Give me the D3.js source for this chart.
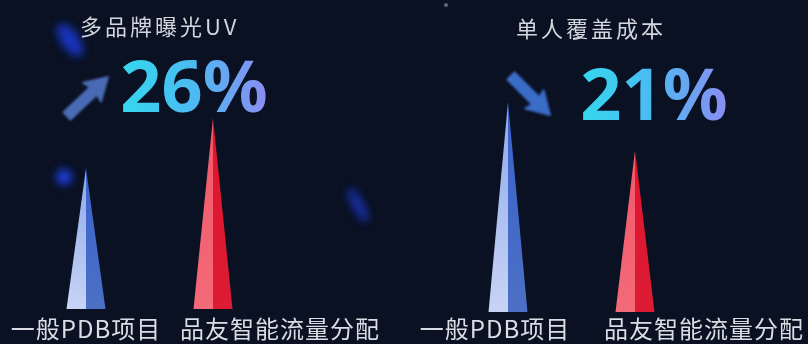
<!DOCTYPE html>
<html>
<head>
<meta charset="utf-8">
<script src="https://cdn.jsdelivr.net/npm/d3@7"></script>
<style>
  html, body { margin: 0; padding: 0; background: #0a1122; }
  svg { display: block; }
</style>
</head>
<body>
<div id="chart"></div>
<script>
// Data
const panelTitles = ["多品牌曝光UV", "单人覆盖成本"];
const panelChanges = ["26%", "21%"];
const panelTrends = ["up", "down"];
const categories = ["一般PDB项目", "品友智能流量分配"];
const valuesUV = [67, 91];
const valuesCost = [100, 77];

const width = 808, height = 344;

const svg = d3.select("#chart").append("svg")
    .attr("width", width)
    .attr("height", height);

const defs = svg.append("defs");

// Background
svg.append("rect")
    .attr("width", width)
    .attr("height", height)
    .attr("fill", "#0a1122");

// faint speckle texture
const pat = defs.append("pattern")
    .attr("id", "speckle")
    .attr("width", 23).attr("height", 19)
    .attr("patternUnits", "userSpaceOnUse");
[[3, 4, 0.6], [14, 11, 0.5], [19, 2, 0.4], [8, 15, 0.45]].forEach(([cx, cy, r]) => {
    pat.append("circle").attr("cx", cx).attr("cy", cy).attr("r", r)
        .attr("fill", "#6a7aa0").attr("opacity", 0.18);
});
svg.append("rect")
    .attr("width", width)
    .attr("height", height)
    .attr("fill", "url(#speckle)");

// Blurred decorative blobs
defs.append("filter").attr("id", "blur6")
    .attr("x", "-100%").attr("y", "-100%").attr("width", "300%").attr("height", "300%")
    .append("feGaussianBlur").attr("stdDeviation", 4.5);
defs.append("filter").attr("id", "blur1")
    .append("feGaussianBlur").attr("stdDeviation", 0.8);

const deco = svg.append("g").attr("filter", "url(#blur6)");
deco.append("ellipse")
    .attr("transform", "translate(70,40) rotate(55)")
    .attr("rx", 19).attr("ry", 9)
    .attr("fill", "#1c3ce0").attr("opacity", 0.8);
deco.append("circle")
    .attr("cx", 64).attr("cy", 177).attr("r", 8)
    .attr("fill", "#1e40f0").attr("opacity", 0.9);
deco.append("ellipse")
    .attr("transform", "translate(358,205) rotate(62)")
    .attr("rx", 19).attr("ry", 6)
    .attr("fill", "#1a32c0").attr("opacity", 0.8);
svg.append("circle")
    .attr("cx", 446).attr("cy", 5).attr("r", 1.6)
    .attr("fill", "#c8d4ff").attr("filter", "url(#blur1)");

// Gradients
function vGrad(id, top, bottom) {
    const g = defs.append("linearGradient").attr("id", id)
        .attr("x1", 0).attr("y1", 0).attr("x2", 0).attr("y2", 1);
    g.append("stop").attr("offset", "0%").attr("stop-color", top);
    g.append("stop").attr("offset", "100%").attr("stop-color", bottom);
}
vGrad("blueL", "#8ea8ea", "#c8d4f6");
vGrad("blueR", "#3a62cc", "#4c70c4");
vGrad("redL", "#f2586a", "#f36a78");
vGrad("redR", "#e0142e", "#dc1c34");

const numGrad = defs.append("linearGradient").attr("id", "numGrad")
    .attr("x1", 0).attr("y1", 0).attr("x2", 1).attr("y2", 0);
numGrad.append("stop").attr("offset", "0%").attr("stop-color", "#34d8ee");
numGrad.append("stop").attr("offset", "50%").attr("stop-color", "#4cbaf2");
numGrad.append("stop").attr("offset", "100%").attr("stop-color", "#8c8cf2");

// Scales
const x = d3.scalePoint().domain(categories).range([0, 127]);
const coneHalf = 19.5;
const coneFills = [["url(#blueL)", "url(#blueR)"], ["url(#redL)", "url(#redR)"]];

const panels = [
    { title: panelTitles[0], change: panelChanges[0], trend: panelTrends[0], values: valuesUV,
      originX: 86, base: 309, titleX: 80, titleY: 35, numX: 194, numY: 112,
      labelX: [86, 280], arrow: [[67, 116], [108, 77]], arrowColor: "#4a6ab4" },
    { title: panelTitles[1], change: panelChanges[1], trend: panelTrends[1], values: valuesCost,
      originX: 508, base: 312, titleX: 516, titleY: 37, numX: 654, numY: 120,
      labelX: [495, 704], arrow: [[511, 76], [550, 115]], arrowColor: "#3a6cc8" }
];

panels.forEach(p => {
    const y = d3.scaleLinear().domain([0, 100]).range([p.base, p.base - 210]);
    const g = svg.append("g");

    // Title
    g.append("text")
        .attr("x", p.titleX).attr("y", p.titleY)
        .attr("font-family", "'Noto Sans CJK SC', 'Noto Sans', sans-serif")
        .attr("font-size", 22)
        .attr("letter-spacing", 3)
        .attr("fill", "#d2d6de")
        .text(p.title);

    // Change number
    g.append("text")
        .attr("x", p.numX).attr("y", p.numY)
        .attr("text-anchor", "middle")
        .attr("font-family", "'Noto Sans', Roboto, sans-serif")
        .attr("font-weight", "bold")
        .attr("font-size", 72)
        .attr("fill", "url(#numGrad)")
        .text(p.change);

    // Trend arrow
    const [[ax0, ay0], [ax1, ay1]] = p.arrow;
    const ang = Math.atan2(ay1 - ay0, ax1 - ax0) * 180 / Math.PI;
    const len = Math.hypot(ax1 - ax0, ay1 - ay0);
    g.append("path")
        .attr("transform", `translate(${ax0},${ay0}) rotate(${ang})`)
        .attr("d", `M0,-5 L${len - 20},-5 L${len - 22},-13 L${len},0 L${len - 22},13 L${len - 20},5 L0,5 Z`)
        .attr("fill", p.arrowColor)
        .attr("stroke", p.arrowColor)
        .attr("stroke-linejoin", "round")
        .attr("stroke-width", 2)
        .attr("filter", "url(#blur1)");

    // Cones
    const cones = g.append("g").attr("transform", `translate(${p.originX},0)`);
    categories.forEach((c, i) => {
        const cx = x(c), tip = y(p.values[i]);
        cones.append("path")
            .attr("d", `M${cx},${tip} L${cx - coneHalf},${p.base} L${cx},${p.base} Z`)
            .attr("fill", coneFills[i][0]);
        cones.append("path")
            .attr("d", `M${cx},${tip} L${cx + coneHalf},${p.base} L${cx},${p.base} Z`)
            .attr("fill", coneFills[i][1]);
    });

    // Category labels
    categories.forEach((c, i) => {
        g.append("text")
            .attr("x", p.labelX[i]).attr("y", 338)
            .attr("text-anchor", "middle")
            .attr("font-family", "'Noto Sans CJK SC', 'Noto Sans', sans-serif")
            .attr("font-size", 24)
            .attr("letter-spacing", 1)
            .attr("fill", "#dadde4")
            .text(c);
    });
});
</script>
</body>
</html>
